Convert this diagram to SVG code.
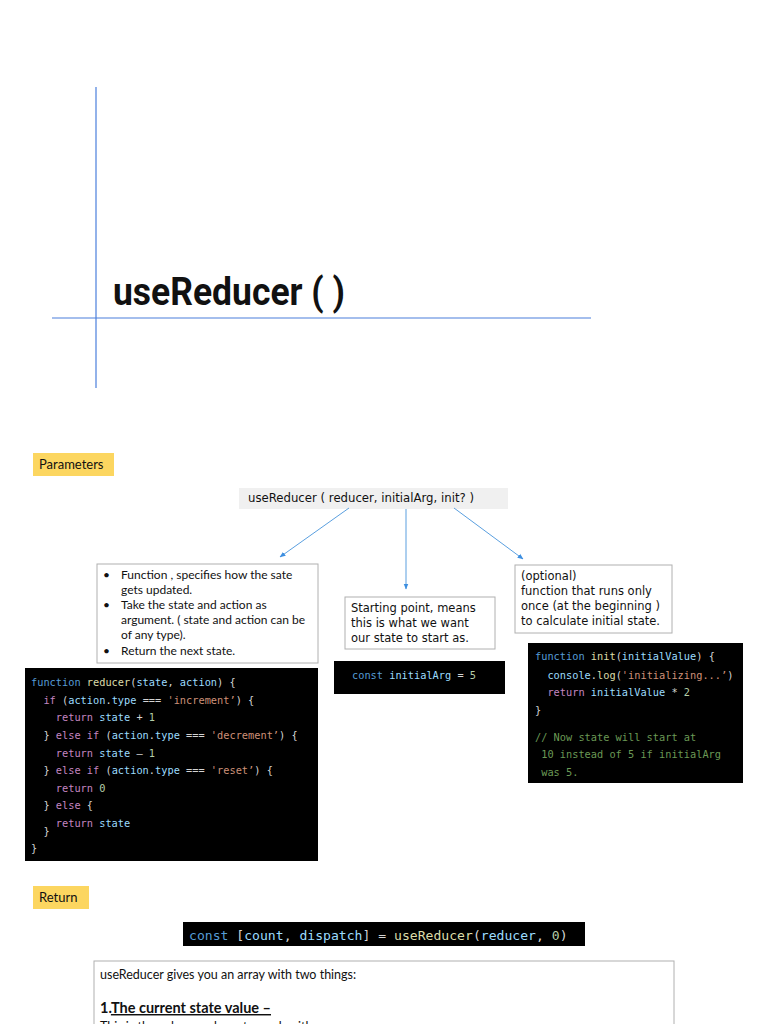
<svg xmlns="http://www.w3.org/2000/svg" width="768" height="1024" viewBox="0 0 768 1024">
<defs>
<marker id="ah" viewBox="0 0 10 10" refX="9" refY="5" markerWidth="6" markerHeight="6" orient="auto-start-reverse">
<path d="M0,1 L10,5 L0,9 z" fill="#3c8ee0"/>
</marker>
<style>
.guide{stroke:#4a7fdc;stroke-width:1.2;fill:none}
.tag{fill:#fcd660}
.tagt{font-family:Lato,"Liberation Sans",sans-serif;font-size:13px;fill:#111}
.box{fill:#fff;stroke:#b0b0b0;stroke-width:1}
.gs{font-family:Lato,"Liberation Sans",sans-serif;font-size:12px;fill:#111}
.sg{font-family:"DejaVu Sans","Open Sans",sans-serif;font-size:11.5px;fill:#111}
.code{fill:#000}
.mono{font-family:"DejaVu Sans Mono","Liberation Mono",monospace;font-size:10.3px;fill:#d4d4d4;white-space:pre}
.kw{fill:#569cd6}.fn{fill:#dcdcaa}.vr{fill:#9cdcfe}.ct{fill:#c586c0}.st{fill:#ce9178}.nm{fill:#b5cea8}.cm{fill:#6a9955}
.conn{stroke:#5a9fdf;stroke-width:1;fill:none}
</style>
</defs>
<g id="title">
<line class="guide" x1="96" y1="87" x2="96" y2="388"/>
<line class="guide" x1="52" y1="318" x2="591" y2="318"/>
<text x="113" y="305" font-family="Roboto,'Liberation Sans',sans-serif" font-weight="bold" font-size="38" fill="#111" textLength="232" lengthAdjust="spacingAndGlyphs">useReducer ( )</text>
</g>
<g id="parameters-label">
<rect class="tag" x="33" y="453" width="81" height="23"/>
<text class="tagt" x="39" y="469">Parameters</text>
</g>
<g id="signature">
<rect x="239" y="488" width="269" height="21" fill="#f0f0f0"/>
<text class="sg" x="248" y="502" textLength="226" lengthAdjust="spacingAndGlyphs">useReducer ( reducer, initialArg, init? )</text>
</g>
<g id="connectors">
<line class="conn" x1="349" y1="508" x2="280" y2="557" marker-end="url(#ah)"/>
<line class="conn" x1="406" y1="509" x2="406" y2="589" marker-end="url(#ah)"/>
<line class="conn" x1="454" y1="508" x2="523" y2="559" marker-end="url(#ah)"/>
</g>
<g id="reducer-desc">
<rect class="box" x="97" y="564" width="221" height="99"/>
<text class="gs" x="103" y="579">•</text>
<text class="gs" x="121" y="579">Function , specifies how the sate</text>
<text class="gs" x="121" y="594">gets updated.</text>
<text class="gs" x="103" y="609">•</text>
<text class="gs" x="121" y="609">Take the state and action as</text>
<text class="gs" x="121" y="624">argument. ( state and action can be</text>
<text class="gs" x="121" y="639">of any type).</text>
<text class="gs" x="103" y="655">•</text>
<text class="gs" x="121" y="655">Return the next state.</text>
</g>
<g id="reducer-code">
<rect class="code" x="25" y="668" width="293" height="193"/>
<text class="mono" x="31" y="686"><tspan class="kw">function</tspan> <tspan class="fn">reducer</tspan>(<tspan class="vr">state</tspan>, <tspan class="vr">action</tspan>) {</text>
<text class="mono" x="31" y="704">  <tspan class="ct">if</tspan> (<tspan class="vr">action</tspan>.<tspan class="vr">type</tspan> === <tspan class="st">'increment’</tspan>) {</text>
<text class="mono" x="31" y="721">    <tspan class="ct">return</tspan> <tspan class="vr">state</tspan> + <tspan class="nm">1</tspan></text>
<text class="mono" x="31" y="739">  } <tspan class="ct">else if</tspan> (<tspan class="vr">action</tspan>.<tspan class="vr">type</tspan> === <tspan class="st">'decrement’</tspan>) {</text>
<text class="mono" x="31" y="757">    <tspan class="ct">return</tspan> <tspan class="vr">state</tspan> – <tspan class="nm">1</tspan></text>
<text class="mono" x="31" y="774">  } <tspan class="ct">else if</tspan> (<tspan class="vr">action</tspan>.<tspan class="vr">type</tspan> === <tspan class="st">'reset’</tspan>) {</text>
<text class="mono" x="31" y="792">    <tspan class="ct">return</tspan> <tspan class="nm">0</tspan></text>
<text class="mono" x="31" y="809">  } <tspan class="ct">else</tspan> {</text>
<text class="mono" x="31" y="827">    <tspan class="ct">return</tspan> <tspan class="vr">state</tspan></text>
<text class="mono" x="31" y="835">  }</text>
<text class="mono" x="31" y="852">}</text>
</g>
<g id="initialarg-desc">
<rect class="box" x="345" y="597" width="150" height="52"/>
<text class="sg" x="351" y="612">Starting point, means</text>
<text class="sg" x="351" y="627">this is what we want</text>
<text class="sg" x="351" y="642">our state to start as.</text>
</g>
<g id="initialarg-code">
<rect class="code" x="334" y="661" width="171" height="33"/>
<text class="mono" x="352" y="679"><tspan class="kw">const</tspan> <tspan class="vr">initialArg</tspan> = <tspan class="nm">5</tspan></text>
</g>
<g id="init-desc">
<rect class="box" x="515" y="565" width="157" height="68"/>
<text class="sg" x="521" y="580">(optional)</text>
<text class="sg" x="521" y="595">function that runs only</text>
<text class="sg" x="521" y="610">once (at the beginning )</text>
<text class="sg" x="521" y="625">to calculate initial state.</text>
</g>
<g id="init-code">
<rect class="code" x="528" y="643" width="215" height="140"/>
<text class="mono" x="535" y="660"><tspan class="kw">function</tspan> <tspan class="fn">init</tspan>(<tspan class="vr">initialValue</tspan>) {</text>
<text class="mono" x="535" y="679">  <tspan class="vr">console</tspan>.<tspan class="fn">log</tspan>(<tspan class="st">'initializing...’</tspan>)</text>
<text class="mono" x="535" y="696">  <tspan class="ct">return</tspan> <tspan class="vr">initialValue</tspan> * <tspan class="nm">2</tspan></text>
<text class="mono" x="535" y="714">}</text>
<text class="mono cm" x="535" y="741">// Now state will start at</text>
<text class="mono cm" x="535" y="758"> 10 instead of 5 if initialArg</text>
<text class="mono cm" x="535" y="776"> was 5.</text>
</g>
<g id="return-label">
<rect class="tag" x="33" y="886" width="56" height="23"/>
<text class="tagt" x="39" y="902">Return</text>
</g>
<g id="return-code">
<rect class="code" x="183" y="922" width="402" height="24"/>
<text class="mono" x="189" y="940" style="font-size:13.1px"><tspan class="kw">const</tspan> [<tspan class="vr">count</tspan>, <tspan class="vr">dispatch</tspan>] = <tspan class="fn">useReducer</tspan>(<tspan class="vr">reducer</tspan>, <tspan class="nm">0</tspan>)</text>
</g>
<g id="return-desc">
<rect class="box" x="94" y="961" width="580" height="80"/>
<text class="gs" x="100" y="979" style="font-size:12.5px">useReducer gives you an array with two things:</text>
<text class="gs" x="100" y="1013" style="font-size:14.5px;font-weight:bold">1.<tspan text-decoration="underline">The current state value –</tspan></text>
<text class="gs" x="100" y="1031" style="font-size:12.5px">This is the value you have to work with</text>
</g>
</svg>
